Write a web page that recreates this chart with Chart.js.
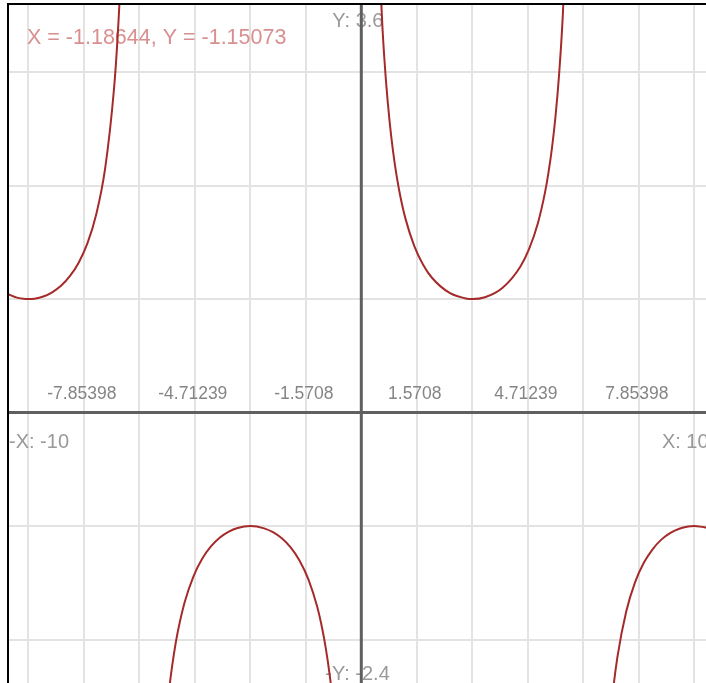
<!DOCTYPE html>
<html>
<head>
<meta charset="utf-8">
<script src="https://cdn.jsdelivr.net/npm/chart.js@4.4.1/dist/chart.umd.min.js"></script>
<style>
  html, body { margin: 0; padding: 0; overflow: hidden; background: #fff; }
  canvas { display: block; }
</style>
</head>
<body>
<canvas id="graphChart" width="722" height="690"></canvas>
<script>
// Nhánh trên bên trái
const leftUpperX = [-10, -9.75, -9.5, -9.42, -9.25, -9, -8.75, -8.5, -8.25, -8, -7.75, -7.5, -7.25, -7, -6.9, -6.8, -6.7];
const leftUpperY = [1.043, 1.013, 1.001, 1.000, 1.004, 1.023, 1.060, 1.117, 1.202, 1.321, 1.493, 1.750, 2.152, 2.851, 3.295, 3.914, 4.833];

// Nhánh dưới ở giữa
const midLowerX = [-5.6, -5.5, -5.4, -5.3, -5.2, -5, -4.75, -4.5, -4.25, -4, -3.75, -3.5, -3.14, -2.75, -2.5, -2.25, -2, -1.75, -1.5, -1.25, -1.1, -1, -0.9, -0.8, -0.7];
const midLowerY = [-2.985, -2.620, -2.340, -2.119, -1.940, -1.671, -1.442, -1.285, -1.176, -1.100, -1.048, -1.016, -1.000, -1.020, -1.054, -1.108, -1.188, -1.303, -1.467, -1.709, -1.913, -2.086, -2.299, -2.568, -2.916];

// Nhánh trên bên phải
const rightUpperX = [0.5, 0.6, 0.7, 0.8, 0.9, 1, 1.1, 1.25, 1.5, 1.75, 2, 2.5, 3, 3.14, 3.5, 4, 4.5, 4.75, 5, 5.2, 5.3, 5.4, 5.5, 5.6, 5.7, 5.8];
const rightUpperY = [4.042, 3.384, 2.916, 2.568, 2.299, 2.086, 1.913, 1.709, 1.467, 1.303, 1.188, 1.054, 1.003, 1.000, 1.016, 1.100, 1.285, 1.442, 1.671, 1.940, 2.119, 2.340, 2.620, 2.985, 3.478, 4.181];

// Nhánh dưới bên phải
const rightLowerX = [6.9, 7, 7.1, 7.25, 7.5, 7.75, 8, 8.25, 8.5, 8.75, 9, 9.25, 9.42, 9.5, 9.75, 10];
const rightLowerY = [-3.295, -2.851, -2.518, -2.152, -1.750, -1.493, -1.321, -1.202, -1.117, -1.060, -1.023, -1.004, -1.000, -1.001, -1.013, -1.043];

// Lưới và nhãn trục
const xGridValues = [-9.42478, -7.85398, -6.28319, -4.71239, -3.14159, -1.5708, 0, 1.5708, 3.14159, 4.71239, 6.28319, 7.85398, 9.42478];
const yGridValues = [-2, -1, 0, 1, 2, 3];
const xTickValues = [-7.85398, -4.71239, -1.5708, 1.5708, 4.71239, 7.85398];
const xTickLabels = ["-7.85398", "-4.71239", "-1.5708", "1.5708", "4.71239", "7.85398"];
const readout = "X = -1.18644, Y = -1.15073";

const xMin = -10, xMax = 10, yMin = -2.4, yMax = 3.6;
const FONT = '"Liberation Sans", Arial, sans-serif';

function toPoints(xs, ys) {
    return xs.map((x, i) => ({ x: x, y: ys[i] }));
}

function branch(xs, ys) {
    return {
        data: toPoints(xs, ys),
        showLine: true,
        borderColor: "#a52a2a",
        borderWidth: 2,
        pointRadius: 0,
        cubicInterpolationMode: "monotone",
        fill: false
    };
}

// Vẽ trục, nhãn và khung
const axesPlugin = {
    id: "axesPlugin",
    beforeDatasetsDraw(chart) {
        const ctx = chart.ctx;
        const xs = chart.scales.x, ys = chart.scales.y;
        const area = chart.chartArea;
        const x0 = xs.getPixelForValue(0);
        const y0 = ys.getPixelForValue(0);

        ctx.save();
        // nhãn tọa độ con trỏ
        ctx.font = "21.5px " + FONT;
        ctx.fillStyle = "#d98f8f";
        ctx.textAlign = "left";
        ctx.textBaseline = "alphabetic";
        ctx.fillText(readout, 27, 44);

        // nhãn trục x
        ctx.font = "17.5px " + FONT;
        ctx.fillStyle = "#858585";
        ctx.textAlign = "center";
        xTickValues.forEach((v, i) => {
            ctx.fillText(xTickLabels[i], xs.getPixelForValue(v) - 2, y0 - 14);
        });

        // nhãn giới hạn
        ctx.font = "20px " + FONT;
        ctx.fillStyle = "#999";
        ctx.textAlign = "left";
        ctx.fillText("-X: " + xMin, area.left + 1, y0 + 35);
        ctx.fillText("Y: " + yMax, x0 - 29, area.top + 23);
        ctx.fillText("-Y: " + yMin, x0 - 36, area.bottom - 5);
        ctx.textAlign = "right";
        ctx.fillText("X: " + xMax, area.right - 6, y0 + 35);

        // trục chính
        ctx.strokeStyle = "#5f5f5f";
        ctx.lineWidth = 3;
        ctx.beginPath();
        ctx.moveTo(area.left, y0);
        ctx.lineTo(area.right, y0);
        ctx.moveTo(x0, area.top);
        ctx.lineTo(x0, area.bottom);
        ctx.stroke();
        ctx.restore();
    },
    afterDraw(chart) {
        const ctx = chart.ctx;
        const area = chart.chartArea;
        ctx.save();
        ctx.strokeStyle = "#000";
        ctx.lineWidth = 2;
        ctx.strokeRect(area.left, area.top, area.right - area.left, area.bottom - area.top);
        ctx.restore();
    }
};

const graph = document.getElementById("graphChart").getContext("2d");

const cscChart = new Chart(graph, {
    type: "scatter",
    data: {
        datasets: [
            branch(leftUpperX, leftUpperY),
            branch(midLowerX, midLowerY),
            branch(rightUpperX, rightUpperY),
            branch(rightLowerX, rightLowerY)
        ]
    },
    options: {
        responsive: false,
        animation: false,
        events: [],
        layout: {
            padding: { left: 8, right: 7.4, top: 4, bottom: 5 }
        },
        plugins: {
            legend: { display: false },
            tooltip: { enabled: false }
        },
        scales: {
            x: {
                type: "linear",
                min: xMin,
                max: xMax,
                afterBuildTicks: s => { s.ticks = xGridValues.map(v => ({ value: v })); },
                afterFit: s => { s.height = 0; },
                ticks: { display: false },
                border: { display: false },
                grid: { color: "#e3e3e3", lineWidth: 2, drawTicks: false }
            },
            y: {
                type: "linear",
                min: yMin,
                max: yMax,
                afterBuildTicks: s => { s.ticks = yGridValues.map(v => ({ value: v })); },
                afterFit: s => { s.width = 0; },
                ticks: { display: false },
                border: { display: false },
                grid: { color: "#e3e3e3", lineWidth: 2, drawTicks: false }
            }
        }
    },
    plugins: [axesPlugin]
});
</script>
</body>
</html>
